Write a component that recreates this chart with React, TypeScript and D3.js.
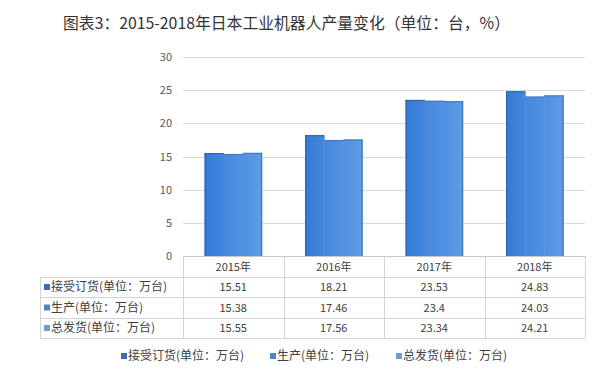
import React, { useEffect, useRef } from 'react';
import * as d3 from 'd3';

const YEARS = ['2015年', '2016年', '2017年', '2018年'];
const SERIES = ['接受订货(单位：万台)', '生产(单位：万台)', '总发货(单位：万台)'];
const ORDERS = [15.51, 18.21, 23.53, 24.83];
const PRODUCTION = [15.38, 17.46, 23.4, 24.03];
const SHIPMENTS = [15.55, 17.56, 23.34, 24.21];
const Y_TICKS = [0, 5, 10, 15, 20, 25, 30];
const TITLE = '图表3：2015-2018年日本工业机器人产量变化（单位：台，%）';

const SERIES_VALUES = [ORDERS, PRODUCTION, SHIPMENTS];
const BAR_COLORS = [
  ['#3777d4', '#4288de'],
  ['#4787dd', '#5193e2'],
  ['#5090df', '#5e9ee6'],
];
const BAR_EDGE = ['#2d5fa8', '#3d74bd', '#4474b5'];
const KEY_COLORS = ['#3f6eaf', '#4d86c8', '#6d9dd3'];

const FONT = '"Noto Sans CJK SC", "Noto Sans", sans-serif';

const W = 612;
const H = 391;

export default function App() {
  const svgRef = useRef<SVGSVGElement>(null);

  useEffect(() => {
    if (!svgRef.current) return;
    const svg = d3.select(svgRef.current);
    svg.selectAll('*').remove();

    const plotLeft = 183;
    const plotRight = 585;
    const y = d3.scaleLinear().domain([0, 30]).range([256, 57]);
    const x = d3.scaleBand<string>().domain(YEARS).range([plotLeft, plotRight]).padding(0);
    const cw = x.bandwidth();
    const inner = d3
      .scaleBand<number>()
      .domain([0, 1, 2])
      .range([cw * 0.215, cw * 0.785])
      .padding(0);

    // gradients
    const defs = svg.append('defs');
    BAR_COLORS.forEach((c, i) => {
      const g = defs
        .append('linearGradient')
        .attr('id', `bar-grad-${i}`)
        .attr('x1', 0)
        .attr('x2', 1)
        .attr('y1', 0)
        .attr('y2', 0);
      g.append('stop').attr('offset', '0%').attr('stop-color', c[0]);
      g.append('stop').attr('offset', '100%').attr('stop-color', c[1]);
    });

    // title
    svg
      .append('text')
      .attr('x', 63)
      .attr('y', 29)
      .attr('font-family', FONT)
      .attr('font-size', 16)
      .attr('fill', '#333')
      .attr('textLength', 447)
      .attr('lengthAdjust', 'spacingAndGlyphs')
      .text(TITLE);

    // gridlines
    svg
      .append('g')
      .selectAll('line')
      .data(Y_TICKS.filter((t) => t > 0))
      .enter()
      .append('line')
      .attr('x1', plotLeft)
      .attr('x2', plotRight)
      .attr('y1', (d) => Math.round(y(d)) + 0.5)
      .attr('y2', (d) => Math.round(y(d)) + 0.5)
      .attr('stroke', '#d9d9d9')
      .attr('stroke-width', 1);

    // y labels
    svg
      .append('g')
      .selectAll('text')
      .data(Y_TICKS)
      .enter()
      .append('text')
      .attr('x', 172)
      .attr('y', (d) => y(d) + 4)
      .attr('text-anchor', 'end')
      .attr('font-family', FONT)
      .attr('font-size', 11)
      .attr('fill', '#595959')
      .text((d) => d);

    // bars
    SERIES_VALUES.forEach((vals, si) => {
      const g = svg.append('g');
      const bx = (i: number) => (x(YEARS[i]) ?? 0) + (inner(si) ?? 0);
      g.selectAll('rect')
        .data(vals)
        .enter()
        .append('rect')
        .attr('x', (_, i) => bx(i))
        .attr('y', (d) => y(d))
        .attr('width', inner.bandwidth() + 0.5)
        .attr('height', (d) => y(0) - y(d))
        .attr('fill', `url(#bar-grad-${si})`);
      // top edge
      g.selectAll('line.top')
        .data(vals)
        .enter()
        .append('line')
        .attr('class', 'top')
        .attr('x1', (_, i) => bx(i))
        .attr('x2', (_, i) => bx(i) + inner.bandwidth())
        .attr('y1', (d) => y(d) + 0.5)
        .attr('y2', (d) => y(d) + 0.5)
        .attr('stroke', BAR_EDGE[si]);
      // left edge of first bar, right edge of last bar
      if (si !== 1) {
        const off = si === 0 ? 0.5 : inner.bandwidth() - 0.5;
        g.selectAll('line.side')
          .data(vals)
          .enter()
          .append('line')
          .attr('class', 'side')
          .attr('x1', (_, i) => bx(i) + off)
          .attr('x2', (_, i) => bx(i) + off)
          .attr('y1', (d) => y(d))
          .attr('y2', y(0))
          .attr('stroke', BAR_EDGE[si]);
      }
    });

    // data table
    const tableLeft = 40;
    const rowTops = [256, 277, 297, 318, 338];
    const border = '#d4d4d4';
    const tg = svg.append('g');

    rowTops.forEach((ry, i) => {
      tg.append('line')
        .attr('x1', i === 0 ? plotLeft : tableLeft)
        .attr('x2', plotRight)
        .attr('y1', ry + 0.5)
        .attr('y2', ry + 0.5)
        .attr('stroke', i === 0 ? '#c8c8c8' : border);
    });
    const vx = [...YEARS.map((yr) => x(yr) ?? 0), plotRight];
    vx.forEach((xx) => {
      tg.append('line')
        .attr('x1', Math.round(xx) + 0.5)
        .attr('x2', Math.round(xx) + 0.5)
        .attr('y1', rowTops[0])
        .attr('y2', rowTops[4])
        .attr('stroke', border);
    });
    tg.append('line')
      .attr('x1', tableLeft + 0.5)
      .attr('x2', tableLeft + 0.5)
      .attr('y1', rowTops[1])
      .attr('y2', rowTops[4])
      .attr('stroke', border);

    tg.selectAll('text.hdr')
      .data(YEARS)
      .enter()
      .append('text')
      .attr('class', 'hdr')
      .attr('x', (d) => (x(d) ?? 0) + cw / 2)
      .attr('y', (rowTops[0] + rowTops[1]) / 2 + 4)
      .attr('text-anchor', 'middle')
      .attr('font-family', FONT)
      .attr('font-size', 11)
      .attr('fill', '#404040')
      .text((d) => d);

    SERIES.forEach((name, si) => {
      const cy = (rowTops[si + 1] + rowTops[si + 2]) / 2;
      tg.append('rect')
        .attr('x', 44)
        .attr('y', cy - 3)
        .attr('width', 6)
        .attr('height', 6)
        .attr('fill', KEY_COLORS[si]);
      tg.append('text')
        .attr('x', 51)
        .attr('y', cy + 4)
        .attr('font-family', FONT)
        .attr('font-size', 12)
        .attr('fill', '#404040')
        .text(name);
      tg.selectAll(`text.v${si}`)
        .data(SERIES_VALUES[si])
        .enter()
        .append('text')
        .attr('class', `v${si}`)
        .attr('x', (_, i) => (x(YEARS[i]) ?? 0) + cw / 2)
        .attr('y', cy + 4)
        .attr('text-anchor', 'middle')
        .attr('font-family', FONT)
        .attr('font-size', 11)
        .attr('fill', '#404040')
        .text((d) => d);
    });

    // legend
    const legendX = [121, 270, 396];
    const lg = svg.append('g');
    SERIES.forEach((name, si) => {
      lg.append('rect')
        .attr('x', legendX[si])
        .attr('y', 353)
        .attr('width', 6)
        .attr('height', 6)
        .attr('fill', KEY_COLORS[si]);
      lg.append('text')
        .attr('x', legendX[si] + 7)
        .attr('y', 360)
        .attr('font-family', FONT)
        .attr('font-size', 12)
        .attr('fill', '#404040')
        .text(name);
    });
  }, []);

  return (
    <svg
      ref={svgRef}
      width={W}
      height={H}
      style={{ position: 'absolute', top: 0, left: 0, background: '#fff' }}
    />
  );
}
